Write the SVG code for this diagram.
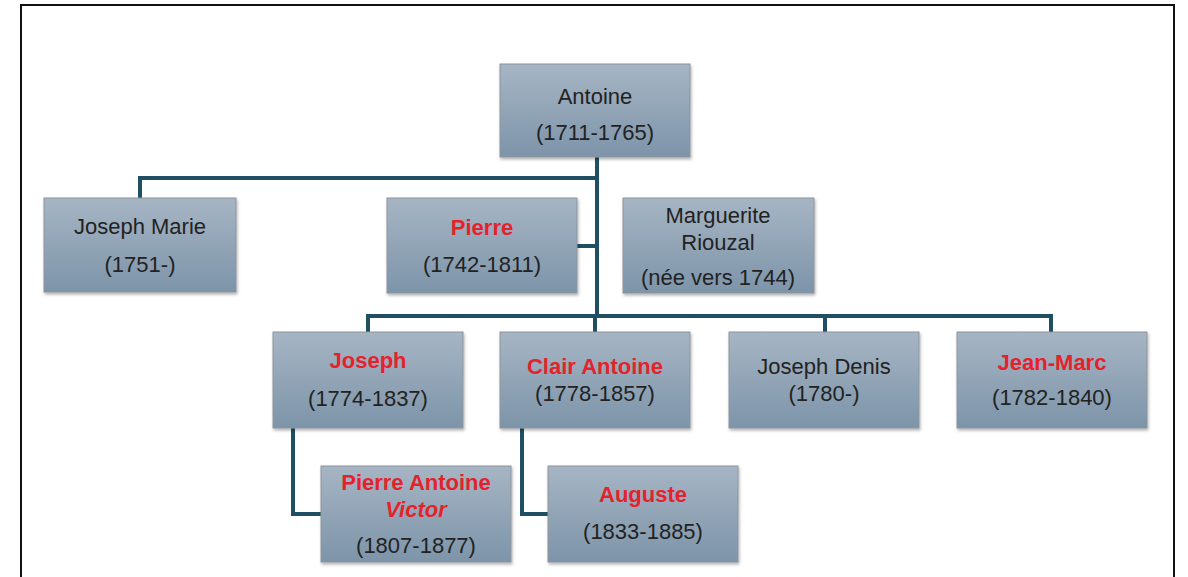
<svg xmlns="http://www.w3.org/2000/svg" width="1188" height="577" viewBox="0 0 1188 577">
<defs>
<linearGradient id="g" x1="0" y1="0" x2="0" y2="1">
<stop offset="0" stop-color="#a6b5c4"/>
<stop offset="1" stop-color="#7d94a9"/>
</linearGradient>
<filter id="sh" x="-5%" y="-5%" width="115%" height="120%">
<feDropShadow dx="1" dy="2" stdDeviation="1.5" flood-color="#000" flood-opacity="0.3"/>
</filter>
</defs>
<style>
.box{fill:url(#g);stroke:#8d949c;stroke-width:1;filter:url(#sh)}
.t{font-family:"Liberation Sans",Arial,sans-serif;font-size:22px;fill:#222;text-anchor:middle}
.r{font-weight:bold;fill:#e5222c}
.c{fill:none;stroke:#1e4f63;stroke-width:4}
</style>
<rect x="0" y="0" width="1188" height="577" fill="#fff"/>
<path d="M21,577 V5 H1174 V577" fill="none" stroke="#111" stroke-width="2"/>
<g id="connectors">
<path class="c" d="M597,157 V316"/>
<path class="c" d="M140,198 V178 H597"/>
<path class="c" d="M577,246 H597"/>
<path class="c" d="M368,332 V316 H1051 V332"/>
<path class="c" d="M595,316 V332"/>
<path class="c" d="M825,316 V332"/>
<path class="c" d="M293,428 V514 H321"/>
<path class="c" d="M522,428 V514 H548"/>
</g>
<g id="antoine"><rect class="box" x="500" y="64" width="190" height="93"/>
<text class="t" x="595" y="104">Antoine</text><text class="t" x="595" y="140">(1711-1765)</text></g>
<g id="joseph-marie"><rect class="box" x="44" y="198" width="192" height="94"/>
<text class="t" x="140" y="234">Joseph Marie</text><text class="t" x="140" y="272">(1751-)</text></g>
<g id="pierre"><rect class="box" x="387" y="198" width="190" height="95"/>
<text class="t r" x="482" y="235">Pierre</text><text class="t" x="482" y="272">(1742-1811)</text></g>
<g id="marguerite"><rect class="box" x="623" y="198" width="191" height="95"/>
<text class="t" x="718" y="223">Marguerite</text><text class="t" x="718" y="250">Riouzal</text><text class="t" x="718" y="285">(née vers 1744)</text></g>
<g id="joseph"><rect class="box" x="273" y="332" width="190" height="96"/>
<text class="t r" x="368" y="368">Joseph</text><text class="t" x="368" y="406">(1774-1837)</text></g>
<g id="clair-antoine"><rect class="box" x="500" y="332" width="190" height="96"/>
<text class="t r" x="595" y="374">Clair Antoine</text><text class="t" x="595" y="401">(1778-1857)</text></g>
<g id="joseph-denis"><rect class="box" x="729" y="332" width="190" height="96"/>
<text class="t" x="824" y="374">Joseph Denis</text><text class="t" x="824" y="401">(1780-)</text></g>
<g id="jean-marc"><rect class="box" x="957" y="332" width="190" height="96"/>
<text class="t r" x="1052" y="370">Jean-Marc</text><text class="t" x="1052" y="405">(1782-1840)</text></g>
<g id="pierre-antoine-victor"><rect class="box" x="321" y="466" width="190" height="96"/>
<text class="t r" x="416" y="490">Pierre Antoine</text><text class="t r" x="416" y="517" font-style="italic">Victor</text><text class="t" x="416" y="553">(1807-1877)</text></g>
<g id="auguste"><rect class="box" x="548" y="466" width="190" height="96"/>
<text class="t r" x="643" y="502">Auguste</text><text class="t" x="643" y="539">(1833-1885)</text></g>
</svg>
